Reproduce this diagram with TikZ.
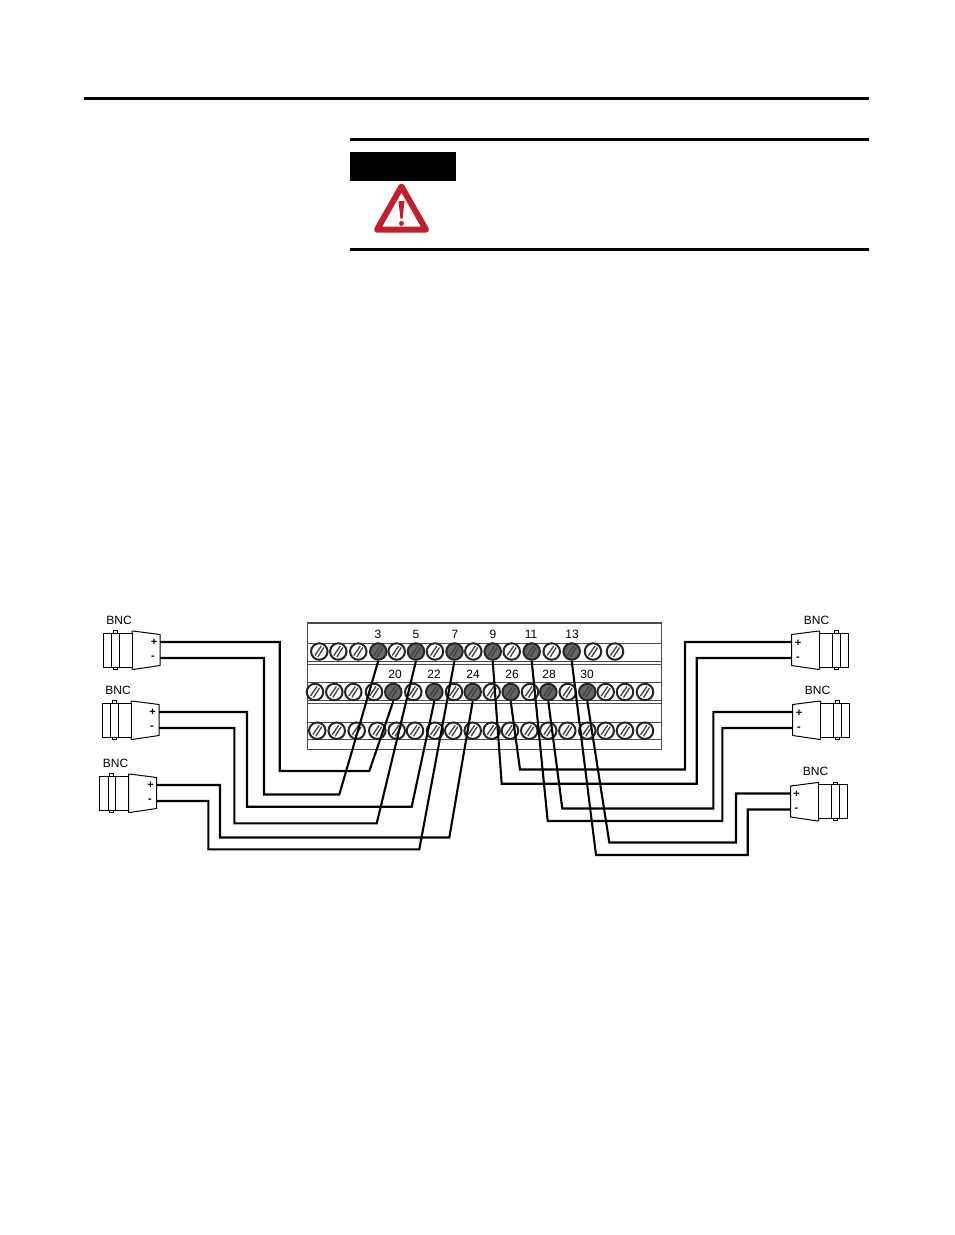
\documentclass[tikz,border=0pt]{standalone}
\usepackage{fontspec}
\setmainfont{Liberation Sans}
\usetikzlibrary{calc}
\definecolor{warnred}{RGB}{190,32,46}
\tikzset{
  rule/.style={line width=3pt},
  wire/.style={line width=2.1pt,line join=miter},
  blockline/.style={line width=.9pt,draw=black!70},
  lbl/.style={font=\fontsize{12}{12}\selectfont,inner sep=0pt},
  sign/.style={font=\bfseries\fontsize{11}{11}\selectfont,inner sep=0pt},
  screw/.style={circle,draw=black!85,line width=2pt,fill=white,inner sep=0pt,minimum size=16.5pt,
    path picture={\draw[black!75,line width=1.3pt] ($(path picture bounding box.center)+(-4.5pt,-4pt)$) -- ($(path picture bounding box.center)+(2pt,5.5pt)$);
      \draw[black!75,line width=1.3pt] ($(path picture bounding box.center)+(-1.5pt,-5.5pt)$) -- ($(path picture bounding box.center)+(4.5pt,4pt)$);}},
  used/.style={screw,fill=black!60},
  pics/bnc/.style={code={
    \coordinate (-plus) at (0,-8);
    \coordinate (-minus) at (0,8);
    \draw[line width=1pt,fill=white] (0,-15.5) -- (-27,-19) -- (-28,-19) -- (-28,19) -- (-27,19.5) -- (0,15.5) -- cycle;
    \draw[line width=1pt,fill=white] (-28,-17) rectangle (-57,17);
    \draw[line width=1pt] (-48.5,-17) -- (-48.5,17) (-41,-17) -- (-41,17);
    \draw[line width=.8pt] (-47,-17) -- (-47,-19.5) -- (-43,-19.5) -- (-43,-17) (-47,17) -- (-47,19) -- (-43,19) -- (-43,17);
  }}
}
\begin{document}
\begin{tikzpicture}[x=1pt,y=-1pt]
\useasboundingbox (0,0) rectangle (954,1235);
% page rules
\draw[rule] (84,98.5) -- (869,98.5);
\draw[rule] (350,139.5) -- (869,139.5);
\draw[rule] (350,249) -- (869,249);
\fill (350,152) rectangle (456,181);
% warning sign
\draw[warnred,line width=6pt,line join=round,fill=white] (401.5,186.5) -- (426,229.7) -- (377,229.7) -- cycle;
\fill[warnred] (398.5,201) -- (404.5,201) -- (402.6,218.5) -- (400.4,218.5) -- cycle;
\fill[warnred] (401.5,223.5) circle (2.5pt);
% terminal block
\draw[blockline] (307,622) rectangle (661,749);
\draw[line width=2pt,black!70] (307,623) -- (661,623);
\foreach \y in {643.5,661.5,664,682.5,700.5,703,722.5,739.5}
  \draw[blockline] (307,\y) -- (661,\y);
% screws, top row
\foreach \x/\n/\s in {319.3/a1/screw,338.3/a2/screw,358.3/a3/screw,378.3/t3/used,396.7/a5/screw,416/t5/used,435/a7/screw,454.5/t7/used,473.3/a9/screw,492.7/t9/used,511.7/a11/screw,531.7/t11/used,551.7/a13/screw,571.7/t13/used,593/a15/screw,615/a16/screw}
  \node[\s] (\n) at (\x,651.5) {};
% screws, middle row
\foreach \x/\n/\s in {315/b1/screw,334.3/b2/screw,353.3/b3/screw,374/b4/screw,393.3/t20/used,413.3/b6/screw,434.3/t22/used,454/b8/screw,472.7/t24/used,491.7/b10/screw,510.7/t26/used,530/b12/screw,548.3/t28/used,567.7/b14/screw,587.3/t30/used,605.7/b16/screw,625/b17/screw,645/b18/screw}
  \node[\s] (\n) at (\x,692) {};
% screws, bottom row
\foreach \x [count=\i] in {317.3,336.7,356.7,377.3,396.7,415,435,453.3,472.7,491.7,510,529.3,548.3,567.3,587.3,605.7,625,645}
  \node[screw] (c\i) at (\x,730.7) {};
% numbers
\foreach \x/\t in {378/3,416/5,455/7,493/9,531/11,572/13}
  \node[lbl] (n\t) at (\x,634.5) {\t};
\foreach \x/\t in {395/20,434/22,473/24,512/26,549/28,587/30}
  \node[lbl] (n\t) at (\x,674.5) {\t};
% connectors
\pic (l1) at (160,650) {bnc};
\pic (l2) at (159,720) {bnc};
\pic (l3) at (156.5,793) {bnc};
\pic[xscale=-1] (r1) at (791.7,650) {bnc};
\pic[xscale=-1] (r2) at (792.7,720) {bnc};
\pic[xscale=-1] (r3) at (790.7,801.5) {bnc};
\node[lbl] (bl1) at (119,620.5) {BNC};
\node[lbl] (bl2) at (118,690.5) {BNC};
\node[lbl] (bl3) at (115.5,763.5) {BNC};
\node[lbl] (br1) at (816.5,620.5) {BNC};
\node[lbl] (br2) at (817.5,690.5) {BNC};
\node[lbl] (br3) at (815.5,771.5) {BNC};
\foreach \c/\x/\y in {l1/154/642,l2/152.5/712,l3/150.5/785.5,r1/798/643,r2/799/713,r3/796.5/794}
  \node[sign] (\c p) at (\x,\y) {+};
\foreach \c/\x/\y in {l1/153/657.5,l2/152/728,l3/150/801,r1/798/658.5,r2/799/729,r3/796.5/810}
  \node[sign] (\c m) at (\x,\y) {-};
% wires, left side
\draw[wire] (l1-plus) -| (279.7,771) -- (369.3,771) -- (t20.south);
\draw[wire] (l1-minus) -| (264,794.5) -- (339.3,794.5) -- (t3.south);
\draw[wire] (l2-plus) -| (247,806.7) -- (411.7,806.7) -- (t22.south);
\draw[wire] (l2-minus) -| (234.3,823.3) -- (376.7,823.3) -- (t5.south);
\draw[wire] (l3-plus) -| (220,837.5) -- (449.3,837.5) -- (t24.south);
\draw[wire] (l3-minus) -| (208.3,849.3) -- (419.3,849.3) -- (t7.south);
% wires, right side
\draw[wire] (r1-plus) -| (685,769.5) -- (520,769.5) -- (t26.south);
\draw[wire] (r1-minus) -| (696.7,783.7) -- (501.7,783.7) -- (t9.south);
\draw[wire] (r2-plus) -| (713.3,808.5) -- (562.3,808.5) -- (t28.south);
\draw[wire] (r2-minus) -| (722.3,821) -- (547.7,821) -- (t11.south);
\draw[wire] (r3-plus) -| (736,842.5) -- (609.3,842.5) -- (t30.south);
\draw[wire] (r3-minus) -| (747.7,855) -- (596,855) -- (t13.south);
\end{tikzpicture}
\end{document}
